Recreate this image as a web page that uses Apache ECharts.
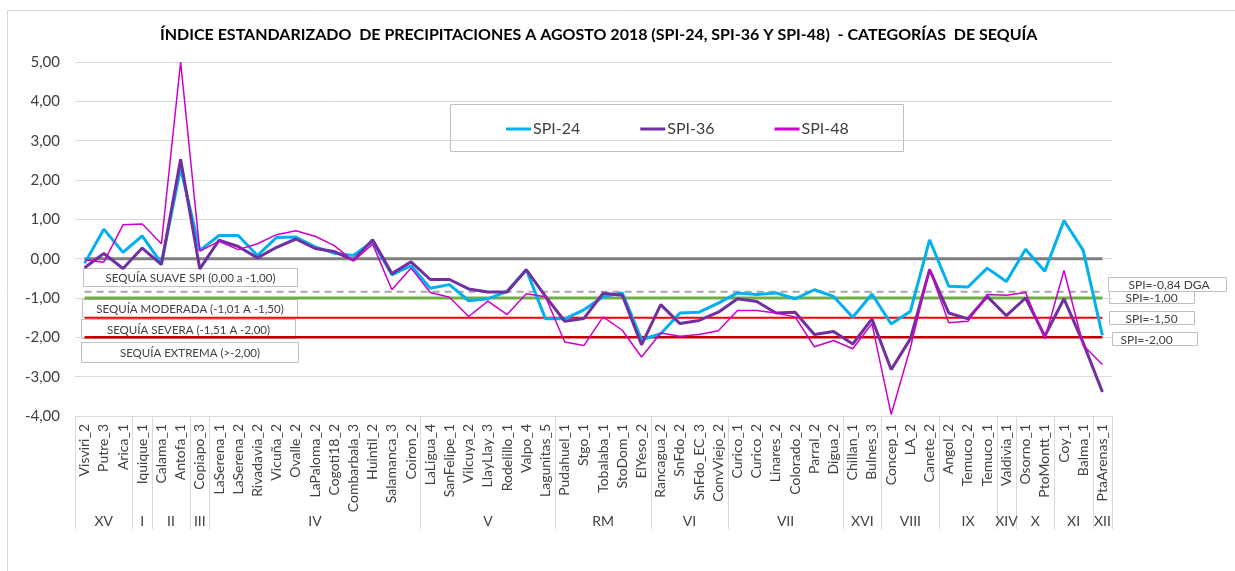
<!DOCTYPE html>
<html>
<head>
<meta charset="utf-8">
<script src="https://cdn.jsdelivr.net/npm/echarts@6/dist/echarts.min.js"></script>
<style>
  html, body { margin: 0; padding: 0; background: #fff; }
  #chart { width: 1235px; height: 571px; }
</style>
</head>
<body>
<div id="chart"></div>
<script>
// estaciones (eje x)
var stations = ['Visviri_2', 'Putre_3', 'Arica_1', 'Iquique_1', 'Calama_1', 'Antofa_1', 'Copiapo_3',
    'LaSerena_1', 'LaSerena_2', 'Rivadavia_2', 'Vicuña_2', 'Ovalle_2', 'LaPaloma_2', 'Cogoti18_2',
    'Combarbala_3', 'Huintil_2', 'Salamanca_3', 'Coiron_2', 'LaLigua_4', 'SanFelipe_1', 'Vilcuya_2',
    'LlayLlay_3', 'Rodelillo_1', 'Valpo_4', 'Lagunitas_5', 'Pudahuel_1', 'Stgo_1', 'Tobalaba_1',
    'StoDom_1', 'ElYeso_2', 'Rancagua_2', 'SnFdo_2', 'SnFdo_EC_3', 'ConvViejo_2', 'Curico_1',
    'Curico_2', 'Linares_2', 'Colorado_2', 'Parral_2', 'Digua_2', 'Chillan_1', 'Bulnes_3', 'Concep_1',
    'LA_2', 'Canete_2', 'Angol_2', 'Temuco_2', 'Temuco_1', 'Valdivia_1', 'Osorno_1', 'PtoMontt_1',
    'Coy_1', 'Balma_1', 'PtaArenas_1'];

// regiones y cantidad de estaciones por region
var regions = ['XV', 'I', 'II', 'III', 'IV', 'V', 'RM', 'VI', 'VII', 'XVI', 'VIII', 'IX', 'XIV', 'X', 'XI', 'XII'];
var regionSizes = [3, 1, 2, 1, 11, 7, 5, 4, 6, 2, 3, 3, 1, 2, 2, 1];

var spi24 = [-0.12, 0.75, 0.16, 0.58, -0.12, 2.30, 0.21, 0.59, 0.59, 0.08, 0.54, 0.55, 0.30, 0.14,
    0.08, 0.44, -0.41, -0.18, -0.75, -0.66, -1.07, -1.02, -0.83, -0.28, -1.53, -1.53, -1.30, -0.97,
    -0.87, -2.06, -1.91, -1.38, -1.36, -1.13, -0.87, -0.91, -0.87, -1.02, -0.79, -0.96, -1.49, -0.90,
    -1.66, -1.34, 0.48, -0.70, -0.72, -0.24, -0.58, 0.24, -0.32, 0.97, 0.21, -1.95];
var spi36 = [-0.23, 0.13, -0.25, 0.27, -0.15, 2.53, -0.26, 0.47, 0.31, 0.02, 0.29, 0.50, 0.26, 0.18,
    -0.04, 0.48, -0.38, -0.08, -0.53, -0.53, -0.77, -0.85, -0.85, -0.28, -0.96, -1.59, -1.52, -0.88,
    -0.93, -2.19, -1.17, -1.65, -1.57, -1.36, -1.02, -1.09, -1.38, -1.36, -1.93, -1.85, -2.17, -1.53,
    -2.82, -2.04, -0.28, -1.38, -1.53, -0.96, -1.45, -1.00, -1.97, -1.02, -2.14, -3.39];
var spi48 = [-0.03, -0.09, 0.86, 0.88, 0.38, 5.00, 0.19, 0.44, 0.23, 0.38, 0.61, 0.71, 0.57, 0.33,
    -0.06, 0.37, -0.79, -0.24, -0.86, -0.98, -1.47, -1.08, -1.42, -0.89, -0.97, -2.12, -2.21, -1.48,
    -1.82, -2.50, -1.89, -1.97, -1.93, -1.83, -1.32, -1.32, -1.38, -1.48, -2.24, -2.08, -2.29, -1.65,
    -3.96, -2.27, -0.26, -1.63, -1.59, -0.91, -0.93, -0.86, -2.04, -0.30, -2.20, -2.69];

// umbrales: 0, DGA -0,84, -1, -1,5, -2
var thresholds = [0, -0.84, -1.0, -1.5, -2.0];
var thresholdStyles = [
    { color: '#7f7f7f', width: 3, type: 'solid' },
    { color: '#a6a6a6', width: 2, type: [7, 5] },
    { color: '#70ad47', width: 3, type: 'solid' },
    { color: '#ff0000', width: 2, type: 'solid' },
    { color: '#c00000', width: 2.5, type: 'solid' }
];

var FONT = 'Lato';
var TXT = '#404040';

function fmt(v) {
    return v.toFixed(2).replace('.', ',');
}

// eje secundario de regiones: posiciones en medias estaciones
var halfSlots = [];
for (var h = 0; h <= stations.length * 2; h++) halfSlots.push(String(h));
var bounds = [0];
var labelAt = {};
var acc = 0;
for (var r = 0; r < regions.length; r++) {
    labelAt[acc * 2 + regionSizes[r]] = regions[r];
    acc += regionSizes[r];
    bounds.push(acc * 2);
}

var series = [];
thresholds.forEach(function(t, k) {
    series.push({
        name: 'umbral' + k,
        type: 'line',
        data: stations.map(function() { return t; }),
        symbol: 'none',
        silent: true,
        z: 1,
        lineStyle: thresholdStyles[k]
    });
});
series.push({
    name: 'SPI-24', type: 'line', data: spi24, symbol: 'none', z: 3,
    lineStyle: { color: '#00b0f0', width: 3 }, itemStyle: { color: '#00b0f0' }
});
series.push({
    name: 'SPI-36', type: 'line', data: spi36, symbol: 'none', z: 4,
    lineStyle: { color: '#7030a0', width: 3 }, itemStyle: { color: '#7030a0' }
});
series.push({
    name: 'SPI-48', type: 'line', data: spi48, symbol: 'none', z: 5,
    lineStyle: { color: '#cc00cc', width: 1.5 }, itemStyle: { color: '#cc00cc' }
});

function box(x, y, w, h, text, size, align, pad) {
    return {
        type: 'group', left: x, top: y, z: 100,
        children: [{
            type: 'rect',
            shape: { x: 0, y: 0, width: w, height: h },
            style: { fill: '#fff', stroke: '#bfbfbf', lineWidth: 1 }
        }, {
            type: 'text',
            x: align === 'left' ? pad : w / 2,
            y: h / 2 + 1,
            style: {
                text: text, fill: TXT, font: size + 'px ' + FONT,
                align: align || 'center', verticalAlign: 'middle'
            }
        }]
    };
}

var chart = echarts.init(document.getElementById('chart'));
chart.setOption({
    backgroundColor: '#fff',
    animation: false,
    textStyle: { fontFamily: FONT },
    title: {
        text: 'ÍNDICE ESTANDARIZADO  DE PRECIPITACIONES A AGOSTO 2018 (SPI-24, SPI-36 Y SPI-48)  - CATEGORÍAS  DE SEQUÍA',
        left: 155,
        top: 22,
        textStyle: { fontFamily: FONT, fontSize: 16, fontWeight: 'bold', color: '#000' }
    },
    legend: {
        data: ['SPI-24', 'SPI-36', 'SPI-48'],
        left: 501,
        top: 116,
        itemWidth: 25,
        itemHeight: 3,
        itemGap: 60,
        icon: 'rect',
        textStyle: { fontFamily: FONT, fontSize: 16, color: TXT, padding: [0, 0, 0, -3] }
    },
    grid: { left: 75, right: 123, top: 62, bottom: 155, containLabel: false },
    xAxis: [{
        type: 'category',
        data: stations,
        boundaryGap: true,
        axisLine: { lineStyle: { color: '#d9d9d9', width: 1 } },
        axisTick: { show: false },
        axisLabel: { rotate: 90, interval: 0, margin: 8, fontSize: 14, color: TXT, fontFamily: FONT }
    }, {
        type: 'category',
        data: halfSlots,
        boundaryGap: false,
        position: 'bottom',
        axisLine: { show: false },
        axisTick: {
            show: true, length: 113, inside: false,
            interval: function(i) { return bounds.indexOf(i) >= 0; },
            lineStyle: { color: '#d9d9d9', width: 1 }
        },
        axisLabel: {
            interval: function(i) { return labelAt[i] !== undefined; },
            formatter: function(v, i) { return labelAt[i] || ''; },
            margin: 98, fontSize: 14, color: TXT, fontFamily: FONT
        },
        splitLine: { show: false }
    }],
    yAxis: {
        type: 'value',
        min: -4,
        max: 5,
        interval: 1,
        axisLine: { show: false },
        axisTick: { show: false },
        axisLabel: { formatter: fmt, fontSize: 15, color: TXT, margin: 15, fontFamily: FONT },
        splitLine: { lineStyle: { color: '#d9d9d9', width: 1 } }
    },
    graphic: [
        {
            type: 'rect', left: 5, top: 8, z: -1, silent: true,
            shape: { x: 0, y: 0, width: 1260, height: 600 },
            style: { fill: 'none', stroke: '#d9d9d9', lineWidth: 1 }
        },
        {
            type: 'rect', left: 448, top: 102, z: 0, silent: true,
            shape: { x: 0, y: 0, width: 453, height: 47 },
            style: { fill: 'none', stroke: '#bfbfbf', lineWidth: 1 }
        },
        box(83, 268, 214, 18, 'SEQUÍA SUAVE SPI (0,00 a -1,00)', 11.5),
        box(82, 299, 215, 18, 'SEQUÍA MODERADA (-1,01 A -1,50)', 11.5),
        box(81, 319, 214, 19, 'SEQUÍA SEVERA (-1,51 A -2,00)', 11.5),
        box(81, 342, 217, 20, 'SEQUÍA EXTREMA (>-2,00)', 11.5),
        box(1108, 277, 118, 14, 'SPI=-0,84 DGA', 12, 'left', 20),
        box(1109, 291, 85, 12, 'SPI=-1,00', 12, 'left', 16),
        box(1109, 311, 85, 13, 'SPI=-1,50', 12, 'left', 16),
        box(1112, 332, 85, 13, 'SPI=-2,00', 12, 'left', 8)
    ],
    series: series
});
</script>
</body>
</html>
